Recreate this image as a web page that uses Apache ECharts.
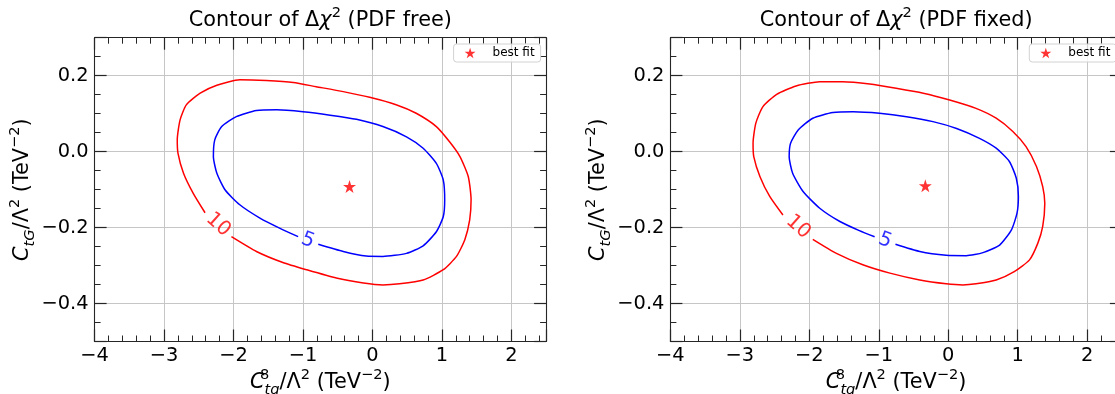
<!DOCTYPE html>
<html><head><meta charset="utf-8">
<script src="https://cdn.jsdelivr.net/npm/echarts@6/dist/echarts.min.js"></script>
<style>html,body{margin:0;padding:0;background:#fff}#c{width:1115px;height:394px}</style>
</head><body><div id="c"></div>
<script>
// ---------------- data ----------------
const PANEL_TITLES = ['PDF free', 'PDF fixed'];
const X_TICKS = [-4, -3, -2, -1, 0, 1, 2];
const X_TICK_LABELS = ['−4', '−3', '−2', '−1', '0', '1', '2'];
const Y_TICKS = [-0.4, -0.2, 0.0, 0.2];
const Y_TICK_LABELS = ['−0.4', '−0.2', '0.0', '0.2'];
const X_RANGE = [-4, 2.5];
const Y_RANGE = [-0.5, 0.3];
const LEVEL_NAMES = ['10', '5'];

// PDF free: Δχ² = 10 contour (starts/ends at the inline label gap)
const freeLevel10 = [[-2.41,-0.161],[-2.58,-0.110],[-2.72,-0.057],[-2.80,-0.004],[-2.81,0.031],[-2.77,0.083],[-2.68,0.123],[-2.48,0.154],[-2.24,0.175],[-1.91,0.189],[-1.53,0.187],[-1.14,0.182],[-0.81,0.171],[-0.42,0.158],[-0.04,0.143],[0.35,0.123],[0.63,0.101],[0.92,0.066],[1.11,0.026],[1.26,-0.013],[1.38,-0.066],[1.42,-0.127],[1.40,-0.180],[1.33,-0.232],[1.21,-0.276],[1.02,-0.311],[0.73,-0.338],[0.39,-0.348],[0.15,-0.351],[-0.13,-0.346],[-0.52,-0.333],[-0.95,-0.311],[-1.29,-0.292],[-1.67,-0.263],[-2.03,-0.224]];
// PDF free: Δχ² = 5 contour
const freeLevel5 = [[-0.78,-0.244],[-0.42,-0.263],[-0.09,-0.275],[0.15,-0.276],[0.49,-0.268],[0.73,-0.248],[0.92,-0.211],[1.02,-0.171],[1.04,-0.127],[1.02,-0.075],[0.92,-0.031],[0.73,0.009],[0.49,0.039],[0.15,0.066],[-0.23,0.085],[-0.61,0.096],[-1.00,0.105],[-1.38,0.110],[-1.67,0.108],[-1.96,0.092],[-2.17,0.066],[-2.27,0.031],[-2.29,-0.013],[-2.24,-0.057],[-2.12,-0.101],[-1.91,-0.140],[-1.62,-0.175],[-1.33,-0.202],[-1.07,-0.224]];
// PDF fixed: Δχ² = 10 contour
const fixedLevel10 = [[-2.38,-0.167],[-2.57,-0.118],[-2.71,-0.066],[-2.80,-0.013],[-2.81,0.022],[-2.77,0.075],[-2.67,0.118],[-2.47,0.151],[-2.19,0.173],[-1.85,0.184],[-1.52,0.184],[-1.13,0.178],[-0.75,0.167],[-0.36,0.154],[0.02,0.136],[0.40,0.114],[0.69,0.088],[0.93,0.053],[1.12,0.013],[1.27,-0.039],[1.36,-0.092],[1.39,-0.136],[1.36,-0.197],[1.29,-0.241],[1.17,-0.285],[0.95,-0.316],[0.69,-0.338],[0.40,-0.348],[0.21,-0.351],[-0.03,-0.348],[-0.41,-0.338],[-0.84,-0.320],[-1.23,-0.298],[-1.61,-0.268],[-1.95,-0.231]];
// PDF fixed: Δχ² = 5 contour
const fixedLevel5 = [[-0.76,-0.244],[-0.41,-0.263],[-0.03,-0.273],[0.26,-0.274],[0.50,-0.266],[0.74,-0.246],[0.91,-0.206],[0.99,-0.162],[1.01,-0.118],[0.98,-0.070],[0.88,-0.026],[0.69,0.009],[0.45,0.035],[0.12,0.061],[-0.22,0.079],[-0.60,0.092],[-0.99,0.101],[-1.37,0.105],[-1.66,0.103],[-1.95,0.088],[-2.16,0.057],[-2.27,0.022],[-2.29,-0.013],[-2.24,-0.057],[-2.09,-0.105],[-1.85,-0.149],[-1.56,-0.184],[-1.28,-0.208],[-1.06,-0.224]];
// best-fit points
const freeBest = [-0.33, -0.092];
const fixedBest = [-0.33, -0.090];
// inline contour-label anchors [x, y] for levels 10 and 5
const freeLabelAt = [[-2.22, -0.192], [-0.93, -0.234]];
const fixedLabelAt = [[-2.16, -0.198], [-0.91, -0.234]];

// ---------------- styling / layout ----------------
const FONT = 'DejaVu Sans';
const STAR = 'path://M0,-100L22.45,-30.9L95.1,-30.9L36.3,11.8L58.8,80.9L0,38.2L-58.8,80.9L-36.3,11.8L-95.1,-30.9L-22.45,-30.9Z';
const AX = '#262626';
const GRIDS = [
  {left: 94.6, top: 37.7, width: 451.5, height: 303.8, outerBoundsMode: 'none', containLabel: false},
  {left: 670.4, top: 37.7, width: 451.5, height: 303.8, outerBoundsMode: 'none', containLabel: false}
];
const LEGEND_LEFT = [453.6, 1029.3];
const LABEL_ROT = [-42, -21];
const LEVEL_COLORS = ['#ff0000', '#0000ff'];

function pick(ticks, labels) {
  return v => { const k = ticks.findIndex(t => Math.abs(t - v) < 1e-6); return k >= 0 ? labels[k] : ''; };
}
const nameRich = {
  i:   {fontFamily: FONT, fontStyle: 'italic', fontSize: 20.8, lineHeight: 30},
  sub: {fontFamily: FONT, fontStyle: 'italic', fontSize: 14.6, lineHeight: 17, verticalAlign: 'bottom'},
  sup: {fontFamily: FONT, fontSize: 14.6, lineHeight: 13, verticalAlign: 'top'},
  sup0:{fontFamily: FONT, fontSize: 14.6, lineHeight: 13, verticalAlign: 'top', width: 0}
};
const nameStyle = {fontFamily: FONT, fontSize: 20.8, color: '#000', lineHeight: 30, rich: nameRich};

const tickStyle = {show: true, inside: true, length: 12, lineStyle: {color: AX, width: 1.2}};
const minorX = {show: true, splitNumber: 5, length: 6, lineStyle: {color: AX, width: 1}};
const minorY = {show: true, splitNumber: 4, length: 6, lineStyle: {color: AX, width: 1}};
const lineAx = {show: true, onZero: false, lineStyle: {color: AX, width: 1.1}};
const split = {show: true, lineStyle: {color: '#c6c6c6', width: 1}};

const xAxis = [], yAxis = [], series = [], title = [], legend = [];
const panels = [
  {l10: freeLevel10, l5: freeLevel5, best: freeBest, lab: freeLabelAt},
  {l10: fixedLevel10, l5: fixedLevel5, best: fixedBest, lab: fixedLabelAt}
];
panels.forEach((p, g) => {
  const G = GRIDS[g];
  title.push({
    text: 'Contour of Δ{i|χ}{s|2} (' + PANEL_TITLES[g] + ')',
    left: G.left + G.width / 2, top: 6, textAlign: 'center', padding: 0,
    textStyle: {fontFamily: FONT, fontSize: 20.8, fontWeight: 'normal', color: '#000', lineHeight: 30,
      rich: {i: {fontFamily: FONT, fontStyle: 'italic', fontSize: 20.8, lineHeight: 30},
             s: {fontFamily: FONT, fontSize: 14.6, lineHeight: 13, verticalAlign: 'top'}}}
  });
  xAxis.push({
    type: 'value', gridIndex: g, position: 'bottom', min: X_RANGE[0], max: X_RANGE[1], interval: 1,
    axisLine: lineAx, axisTick: tickStyle, minorTick: minorX, splitLine: split,
    axisLabel: {show: true, margin: 5, fontFamily: FONT, fontSize: 19.4, color: '#000', formatter: pick(X_TICKS, X_TICK_LABELS)},
    name: '{i|C}{sup0|8}{sub|tq}/Λ{sup|2} (TeV{sup|−2})', nameLocation: 'middle', nameGap: 26, nameTextStyle: nameStyle,
    nameMoveOverlap: false
  });
  xAxis.push({
    type: 'value', gridIndex: g, position: 'top', min: X_RANGE[0], max: X_RANGE[1], interval: 1,
    axisLine: lineAx, axisTick: tickStyle, minorTick: minorX, splitLine: {show: false}, axisLabel: {show: false}
  });
  yAxis.push({
    type: 'value', gridIndex: g, position: 'left', min: Y_RANGE[0], max: Y_RANGE[1], splitNumber: 4,
    axisLine: lineAx, axisTick: tickStyle, minorTick: minorY, splitLine: split,
    axisLabel: {show: true, margin: 6, fontFamily: FONT, fontSize: 19.4, color: '#000', formatter: pick(Y_TICKS, Y_TICK_LABELS)},
    name: '{i|C}{sub|tG}/Λ{sup|2} (TeV{sup|−2})', nameLocation: 'middle', nameGap: 57, nameTextStyle: nameStyle,
    nameMoveOverlap: false
  });
  yAxis.push({
    type: 'value', gridIndex: g, position: 'right', min: Y_RANGE[0], max: Y_RANGE[1], splitNumber: 4,
    axisLine: lineAx, axisTick: tickStyle, minorTick: minorY, splitLine: {show: false}, axisLabel: {show: false}
  });
  [p.l10, p.l5].forEach((d, k) => {
    series.push({
      type: 'line', xAxisIndex: 2 * g, yAxisIndex: 2 * g, data: d, showSymbol: false, symbol: 'none',
      smooth: 0.2, silent: true, z: 3, lineStyle: {color: LEVEL_COLORS[k], width: 1.5}, itemStyle: {color: LEVEL_COLORS[k]}
    });
  });
  series.push({
    type: 'scatter', xAxisIndex: 2 * g, yAxisIndex: 2 * g, silent: true, symbolSize: 1, z: 4,
    itemStyle: {color: 'rgba(0,0,0,0)'},
    data: p.lab.map((v, k) => ({value: v, label: {formatter: LEVEL_NAMES[k], rotate: LABEL_ROT[k], color: LEVEL_COLORS[k]}})),
    label: {show: true, position: 'inside', fontFamily: FONT, fontSize: 20}
  });
  series.push({
    type: 'scatter', name: 'best fit', xAxisIndex: 2 * g, yAxisIndex: 2 * g, data: [p.best],
    symbol: STAR, symbolSize: 13, z: 5, itemStyle: {color: '#ff0000'}
  });
  legend.push({
    data: ['best fit'], left: LEGEND_LEFT[g], top: 44, icon: STAR, itemWidth: 11, itemHeight: 11,
    padding: [3, 6, 3, 11], backgroundColor: 'rgba(255,255,255,0.8)', borderColor: '#d2d2d2', borderWidth: 1,
    borderRadius: 3, selectedMode: false,
    textStyle: {fontFamily: FONT, fontSize: 12, color: '#000', padding: [0, 0, 0, 12]}
  });
});

const chart = echarts.init(document.getElementById('c'), null, {renderer: 'canvas'});
chart.setOption({
  animation: false, backgroundColor: '#fff', textStyle: {fontFamily: FONT},
  title, legend, grid: GRIDS, xAxis, yAxis, series
});
</script></body></html>
